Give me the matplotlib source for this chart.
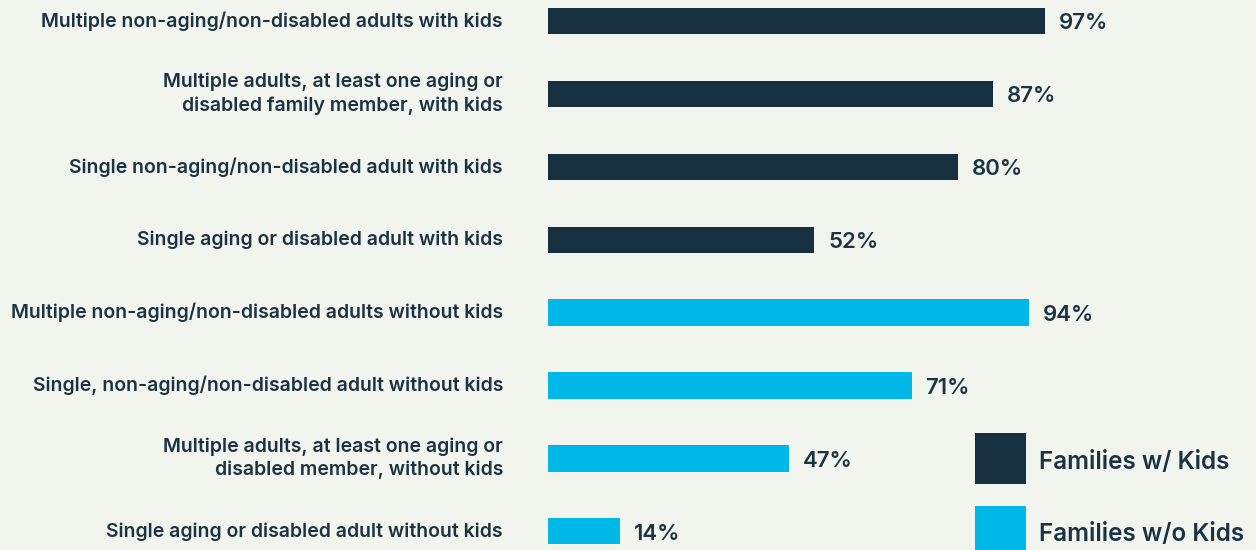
import matplotlib
matplotlib.use("Agg")
import matplotlib.pyplot as plt
from matplotlib.patches import Rectangle

categories = [
    "Multiple non-aging/non-disabled adults with kids",
    "Multiple adults, at least one aging or\ndisabled family member, with kids",
    "Single non-aging/non-disabled adult with kids",
    "Single aging or disabled adult with kids",
    "Multiple non-aging/non-disabled adults without kids",
    "Single, non-aging/non-disabled adult without kids",
    "Multiple adults, at least one aging or\ndisabled member, without kids",
    "Single aging or disabled adult without kids",
]
values = [97, 87, 80, 52, 94, 71, 47, 14]
groups = ["kids", "kids", "kids", "kids", "nokids", "nokids", "nokids", "nokids"]
legend_labels = ["Families w/ Kids", "Families w/o Kids"]

BG = "#f2f5ee"
DARK = "#16303f"
CYAN = "#00b8e8"
TXT = "#1c3342"
colors = {"kids": DARK, "nokids": CYAN}

plt.rcParams["font.family"] = ["Inter", "DejaVu Sans"]

W, H = 1256, 550
fig = plt.figure(figsize=(W / 100, H / 100), dpi=100, facecolor=BG)
ax = fig.add_axes([548 / W, 0, 512 / W, 1])
ax.set_facecolor(BG)

ypos = list(range(len(values)))
ax.barh(ypos, values, height=0.36, color=[colors[g] for g in groups])
ax.set_xlim(0, 100)
ax.set_ylim(7.256, -0.288)

for y, v in zip(ypos, values):
    ax.text(v + 2.7, y + 0.03, f"{v}%", va="center", ha="left", fontsize=16,
            fontweight="semibold", color=TXT)

for y, c in zip(ypos, categories):
    ax.text(-8.8, y, c, va="center", ha="right", fontsize=14,
            fontweight="semibold", color=TXT, linespacing=1.35)

for s in ax.spines.values():
    s.set_visible(False)
ax.set_xticks([])
ax.set_yticks([])

# legend boxes drawn by hand at the lower right
for i, (lab, col) in enumerate(zip(legend_labels, [DARK, CYAN])):
    top = 433 + 73 * i
    fig.add_artist(Rectangle((975 / W, 1 - (top + 51) / H), 51 / W, 51 / H,
                             transform=fig.transFigure, color=col, lw=0))
    fig.text(1039 / W, 1 - (top + 29) / H, lab, va="center", ha="left",
             fontsize=17.5, fontweight="semibold", color=TXT)

fig.savefig("out.png", dpi=100, facecolor=BG)
